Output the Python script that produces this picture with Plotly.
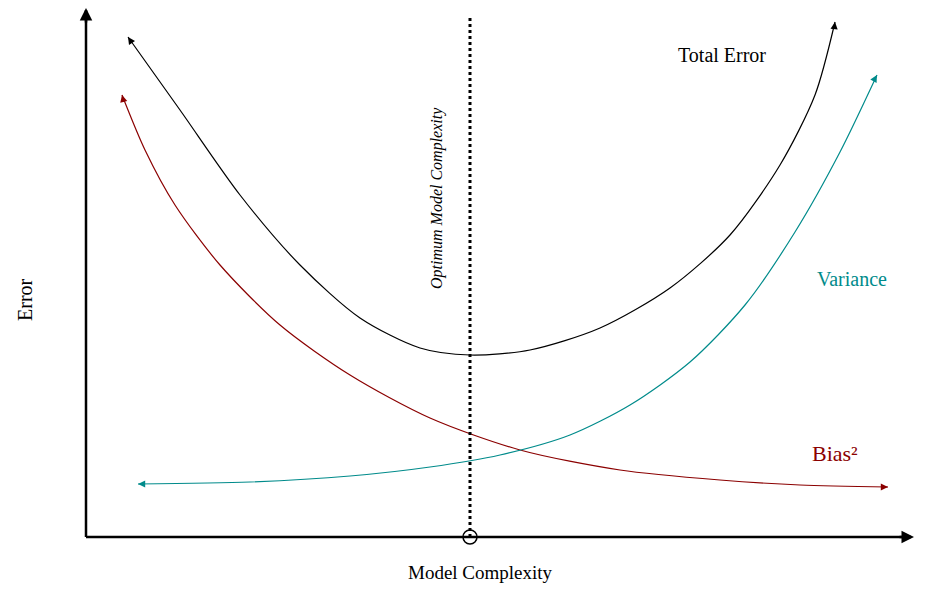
import plotly.graph_objects as go

H = 594
total_x = [128, 180, 240, 300, 360, 420, 470, 530, 600, 670, 730, 780, 815, 835]
total_y = [37, 110, 195, 265, 318, 348, 355, 350, 328, 288, 235, 165, 95, 22]
bias_x = [122, 145, 175, 220, 280, 350, 430, 520, 620, 720, 800, 888]
bias_y = [95, 150, 205, 265, 325, 375, 418, 450, 470, 480, 485, 487]
var_x = [138, 250, 350, 430, 500, 570, 630, 690, 745, 795, 840, 877]
var_y = [484, 482, 476, 467, 455, 435, 405, 362, 305, 232, 152, 75]
axis_origin = (86, 537)
axis_x_end = 904
axis_y_end = 10
optimum_x = 470

BLACK, RED, TEAL = "black", "#8b0000", "#008b8b"
FONT = "Liberation Serif"
PAGE = 8  # browser body margin

fig = go.Figure()
def fy(v): return [H - t for t in v]

for xs, ys, c in [(total_x, total_y, BLACK), (bias_x, bias_y, RED), (var_x, var_y, TEAL)]:
    fig.add_trace(go.Scatter(x=xs, y=fy(ys), mode="lines", line=dict(color=c, width=1.2, shape="spline", smoothing=0.8), hoverinfo="skip"))

anns = []
def arrow(x, y, ax, ay, c, w=1.2, size=1.2):
    anns.append(dict(x=x, y=H - y, ax=ax, ay=H - ay, xref="x", yref="y", axref="x", ayref="y",
                     showarrow=True, arrowhead=2, arrowsize=size, arrowwidth=w, arrowcolor=c, text=""))

arrow(total_x[0], total_y[0], total_x[0] + 4, total_y[0] + 6, BLACK)
arrow(total_x[-1], total_y[-1], total_x[-1] - 1, total_y[-1] + 8, BLACK)
arrow(bias_x[0], bias_y[0], bias_x[0] + 2, bias_y[0] + 8, RED)
arrow(bias_x[-1], bias_y[-1], bias_x[-1] - 8, bias_y[-1], RED)
arrow(var_x[0], var_y[0], var_x[0] + 8, var_y[0], TEAL)
arrow(var_x[-1], var_y[-1], var_x[-1] - 4, var_y[-1] + 7, TEAL)

ox, oy = axis_origin
fig.add_shape(type="line", x0=ox, y0=H - oy, x1=axis_x_end, y1=H - oy, line=dict(color="black", width=2.5))
fig.add_shape(type="line", x0=ox, y0=H - oy, x1=ox, y1=H - axis_y_end, line=dict(color="black", width=2.5))
arrow(axis_x_end + 10, oy, axis_x_end - 6, oy, BLACK, 2.5, 1.0)
arrow(ox, axis_y_end - 2, ox, axis_y_end + 14, BLACK, 2.5, 1.0)
fig.add_shape(type="line", x0=optimum_x, y0=H - oy, x1=optimum_x, y1=H - 15, line=dict(color="black", width=3, dash="dot"))
fig.add_trace(go.Scatter(x=[optimum_x], y=[H - oy], mode="markers",
                         marker=dict(size=14, color="white", line=dict(color="black", width=1.5)), hoverinfo="skip"))

def txt(x, y, s, c, size, angle=0, italic=False):
    anns.append(dict(x=x, y=H - y, xref="x", yref="y", text=s, showarrow=False, textangle=angle,
                     font=dict(family=FONT, size=size, color=c, style="italic" if italic else "normal")))

txt(722, 55, "Total Error", BLACK, 20)
txt(852, 279, "Variance", TEAL, 20)
txt(835, 453, "Bias²", RED, 22)
txt(25, 300, "Error", BLACK, 20, -90)
txt(480, 572, "Model Complexity", BLACK, 19)
txt(437, 198, "Optimum Model Complexity", BLACK, 16, -90, True)

fig.update_layout(width=926 - 2 * PAGE, height=594 - 2 * PAGE, margin=dict(l=0, r=0, t=0, b=0), showlegend=False,
                  plot_bgcolor="white", paper_bgcolor="white", annotations=anns,
                  xaxis=dict(range=[PAGE, 926 - PAGE], visible=False, fixedrange=True),
                  yaxis=dict(range=[PAGE, H - PAGE], visible=False, fixedrange=True))
fig.write_html("out.html")
